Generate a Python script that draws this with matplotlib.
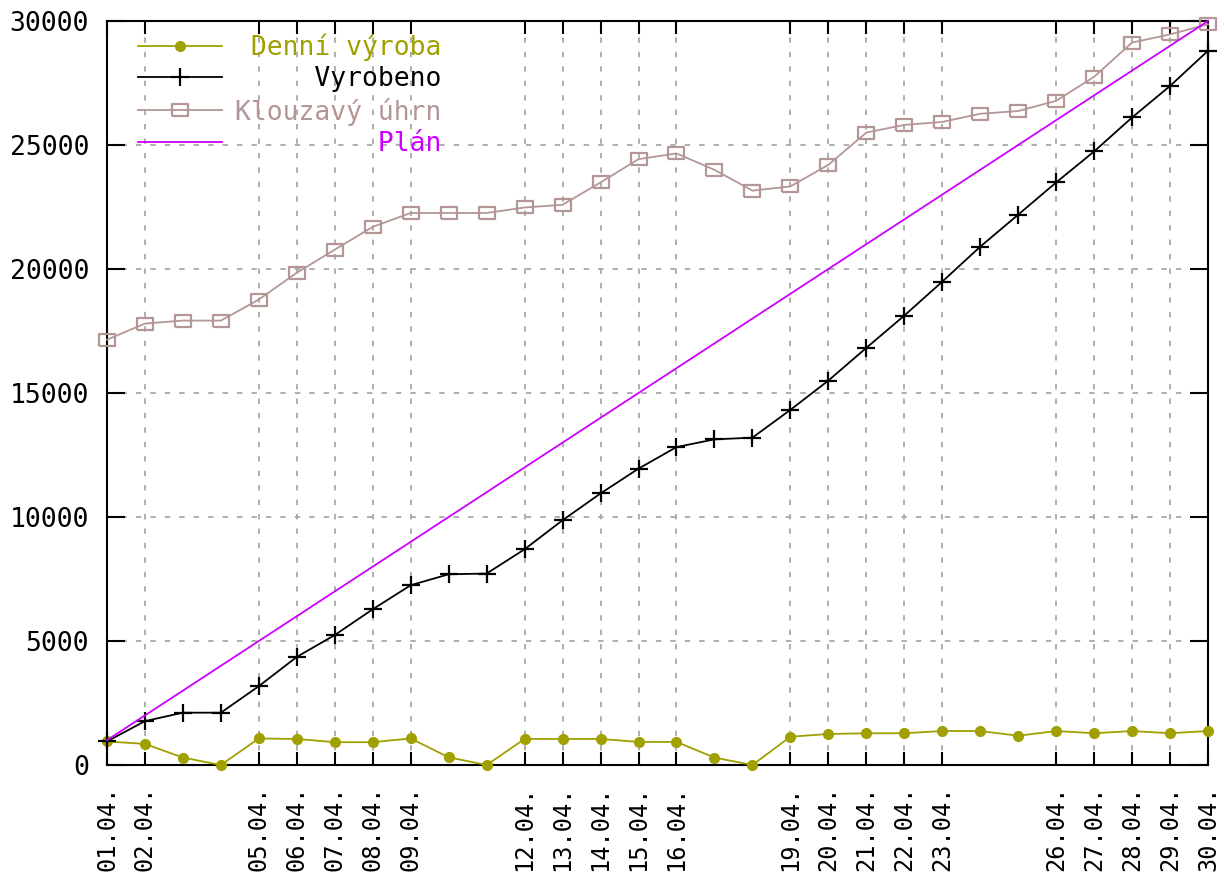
import matplotlib
matplotlib.use('Agg')
import matplotlib.pyplot as plt

plt.rcParams['font.family'] = ['DejaVu Sans Mono']

# ---- data ----
days = list(range(1, 31))
tick_days = [1, 2, 5, 6, 7, 8, 9, 12, 13, 14, 15, 16, 19, 20, 21, 22, 23,
             26, 27, 28, 29, 30]
tick_labels = ['01.04.', '02.04.', '05.04.', '06.04.', '07.04.', '08.04.',
               '09.04.', '12.04.', '13.04.', '14.04.', '15.04.', '16.04.',
               '19.04.', '20.04.', '21.04.', '22.04.', '23.04.', '26.04.',
               '27.04.', '28.04.', '29.04.', '30.04.']
y_ticks = [0, 5000, 10000, 15000, 20000, 25000, 30000]

denni = [950, 850, 300, 0, 1070, 1050, 920, 920, 1070, 310, 0, 1050, 1050,
         1050, 930, 930, 300, 0, 1140, 1250, 1280, 1280, 1370, 1370, 1180,
         1370, 1280, 1370, 1280, 1370]
vyrobeno = [950, 1770, 2110, 2110, 3180, 4360, 5240, 6280, 7250, 7690, 7720,
            8700, 9870, 10950, 11950, 12820, 13130, 13200, 14320, 15500,
            16820, 18120, 19490, 20900, 22190, 23490, 24740, 26110, 27380,
            28800]
klouzavy = [17150, 17800, 17920, 17920, 18770, 19850, 20780, 21700, 22260,
            22260, 22260, 22480, 22590, 23490, 24430, 24660, 24000, 23160,
            23330, 24200, 25500, 25810, 25930, 26260, 26370, 26780, 27750,
            29130, 29460, 29870]
plan = [1000, 2000, 3000, 4000, 5000, 6000, 7000, 8000, 9000, 10000, 11000,
        12000, 13000, 14000, 15000, 16000, 17000, 18000, 19000, 20000, 21000,
        22000, 23000, 24000, 25000, 26000, 27000, 28000, 29000, 30000]

labels = ['Denní výroba', 'Vyrobeno', 'Klouzavý úhrn', 'Plán']
colors = ['#a0a000', '#000000', '#b49696', '#cc00ff']

# ---- figure ----
W, H = 1224, 882
fig = plt.figure(figsize=(W / 100, H / 100), dpi=100)
L, R, T, B = 107, 1208, 21, 765
ax = fig.add_axes([L / W, 1 - B / H, (R - L) / W, (B - T) / H])

width = max(len(s) for s in labels)
lab = [s.rjust(width) for s in labels]

rect = [(-1, -0.72), (1, -0.72), (1, 0.72), (-1, 0.72), (-1, -0.72)]

ax.plot(days, denni, color=colors[0], lw=1.3, marker='o', ms=7,
        mfc=colors[0], mec=colors[0], label=lab[0], clip_on=False, zorder=3)
ax.plot(days, vyrobeno, color=colors[1], lw=1.3, marker='+', ms=13,
        mew=1.6, label=lab[1], clip_on=False, zorder=3)
ax.plot(days, klouzavy, color=colors[2], lw=1.3, marker=rect, ms=12,
        mfc='none', mec=colors[2], mew=1.6, label=lab[2], clip_on=False,
        zorder=3)
ax.plot(days, plan, color=colors[3], lw=1.3, label=lab[3], clip_on=False,
        zorder=3)

ax.set_xlim(1, 30)
ax.set_ylim(0, 30000)
ax.set_xticks(tick_days)
ax.set_xticklabels(tick_labels, rotation=90, va='top', ha='center')
ax.set_yticks(y_ticks)
ax.set_yticklabels([str(v) for v in y_ticks])

ax.tick_params(axis='x', direction='in', length=9.5, width=1.5,
               top=True, bottom=True, labelsize=17, pad=15)
ax.tick_params(axis='y', direction='in', length=13, width=1.5,
               left=True, right=True, labelsize=19, pad=13)
for s in ax.spines.values():
    s.set_linewidth(1.5)
    s.set_color('black')

ax.set_axisbelow(True)
ax.grid(True, color='#a8a8a8', linestyle=(0, (3, 5)), lw=1.3)

leg = ax.legend(loc='upper left', bbox_to_anchor=(0.028, 0.983),
                frameon=False, fontsize=19, borderpad=0, borderaxespad=0,
                handlelength=3.2, handletextpad=0.5, labelspacing=0.2,
                labelcolor='linecolor', numpoints=1)

fig.savefig('out.png', dpi=100)
